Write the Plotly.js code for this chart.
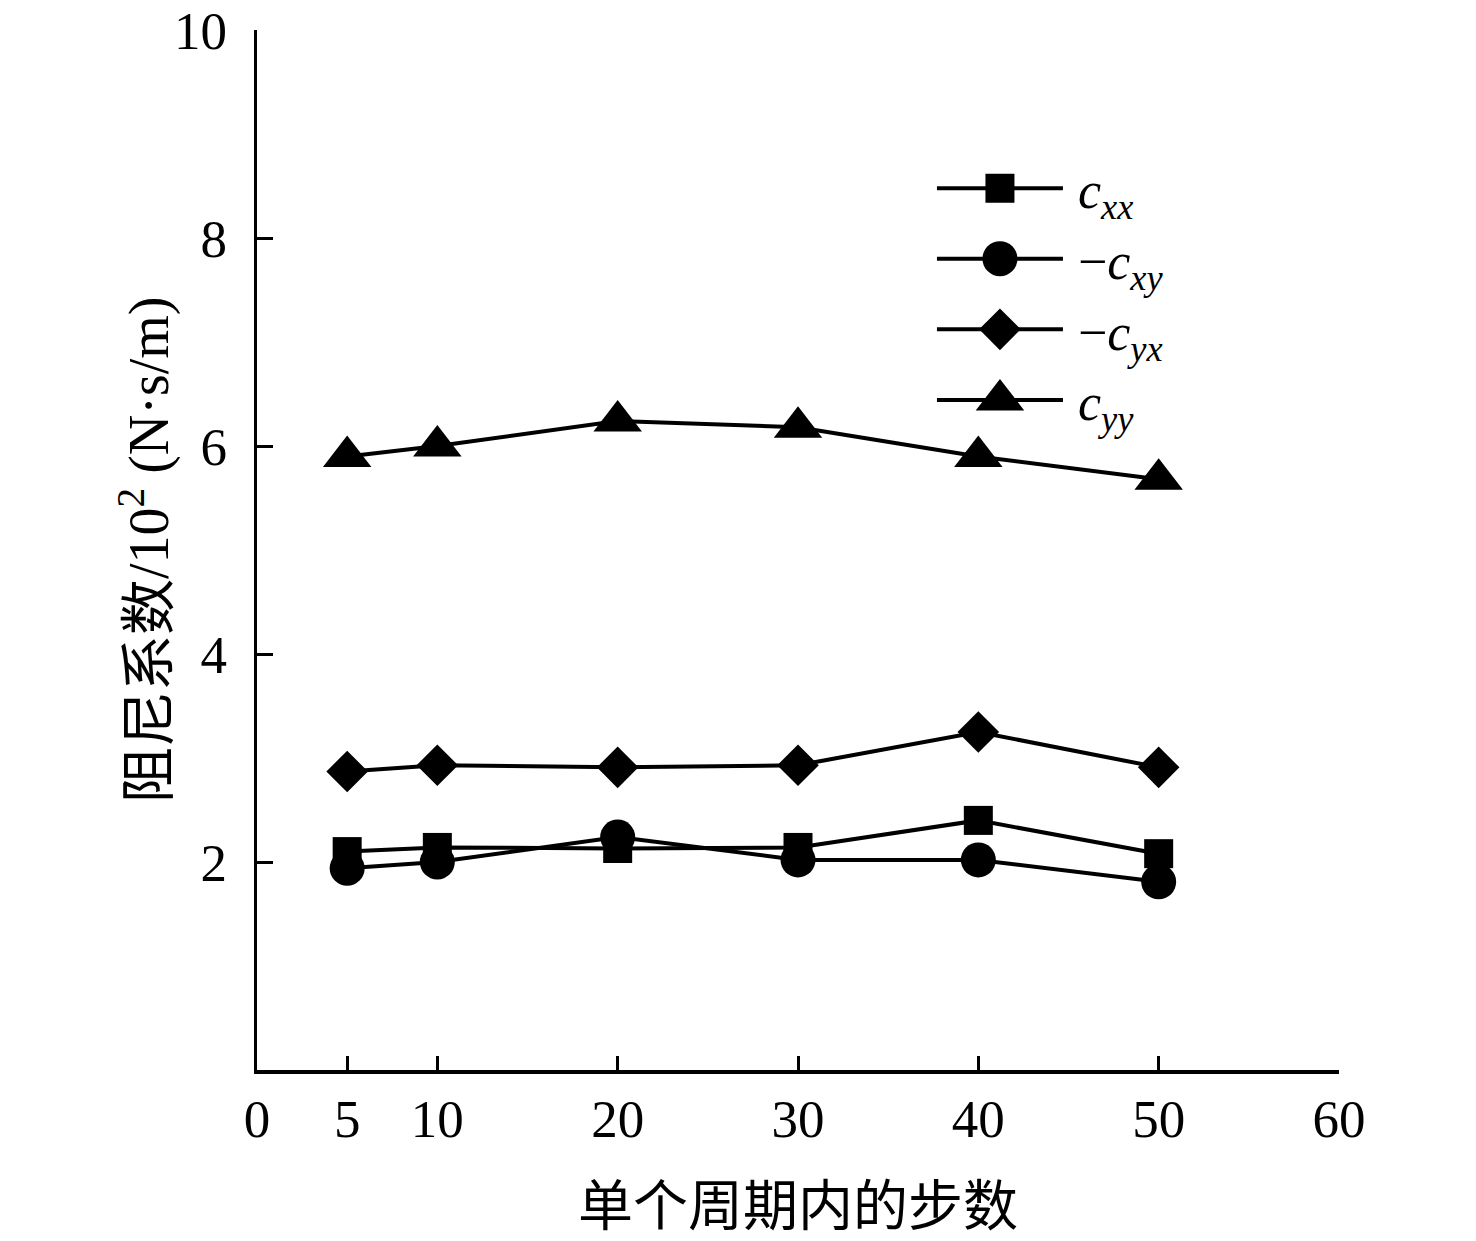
<!DOCTYPE html>
<html>
<head>
<meta charset="utf-8">
<script src="https://cdn.plot.ly/plotly-3.0.1.min.js"></script>
<style>html,body{margin:0;padding:0;background:#fff;}</style>
</head>
<body>
<div id="chart" style="width:1476px;height:1241px;"></div>
<script>
// ---- data ----
const steps = [5, 10, 20, 30, 40, 50];
const cxx   = [2.10, 2.14, 2.13, 2.14, 2.40, 2.08];
const ncxy  = [1.94, 2.00, 2.24, 2.02, 2.02, 1.81];
const ncyx  = [2.87, 2.93, 2.91, 2.93, 3.25, 2.91];
const cyy   = [5.90, 6.00, 6.24, 6.18, 5.90, 5.68];
const xTicks = [0, 5, 10, 20, 30, 40, 50, 60];
const yTicks = [2, 4, 6, 8, 10];
const seriesNames = [
  '<i>c</i><sub><i>xx</i></sub>',
  '\u2212<i>c</i><sub><i>xy</i></sub>',
  '\u2212<i>c</i><sub><i>yx</i></sub>',
  '<i>c</i><sub><i>yy</i></sub>'
];
const xTitle = '单个周期内的步数';
const yTitle = '阻尼系数/10<sup>2</sup> (N·s/m)';

const FONT = '"Liberation Serif", "Times New Roman", "Noto Sans CJK SC", serif';
const symbols = ['square', 'circle', 'diamond', 'triangle-up'];
const sizes = [29, 35, 32, 42];
const values = [cxx, ncxy, ncyx, cyy];

const traces = values.map((v, i) => ({
  x: steps, y: v, name: seriesNames[i], type: 'scatter', mode: 'lines+markers',
  line: {color: '#000', width: 4},
  marker: {symbol: symbols[i], size: sizes[i], color: '#000', line: {width: 0}}
}));

const axisCommon = {
  showline: true, linecolor: '#000', linewidth: 3.5,
  showgrid: false, zeroline: false,
  ticks: 'inside', tickcolor: '#000', tickwidth: 3,
  tickfont: {family: FONT, size: 53, color: '#000'},
  tickmode: 'array'
};

const layout = {
  width: 1476, height: 1241,
  margin: {l: 257, r: 137, t: 30, b: 171},
  paper_bgcolor: '#fff', plot_bgcolor: '#fff',
  font: {family: FONT, color: '#000'},
  showlegend: true,
  legend: {
    x: 0.6238, xanchor: 'left', y: 0.8867, yanchor: 'top',
    bgcolor: 'rgba(0,0,0,0)', borderwidth: 0,
    font: {family: FONT, size: 52, color: '#000'},
    itemwidth: 136, tracegroupgap: 0
  },
  xaxis: Object.assign({}, axisCommon, {
    range: [0, 60], tickvals: xTicks, ticklen: 14, ticklabelstandoff: 0,
    title: {text: xTitle, font: {family: '"Noto Sans CJK SC", sans-serif', size: 55, color: '#000'}, standoff: 40}
  }),
  yaxis: Object.assign({}, axisCommon, {
    range: [0, 10], tickvals: yTicks, ticklen: 16, ticklabelstandoff: 16
  }),
  annotations: [{
    text: yTitle, xref: 'paper', yref: 'paper', x: -0.1035, y: 0.5,
    xanchor: 'center', yanchor: 'middle', textangle: -90, showarrow: false,
    font: {family: FONT, size: 56, color: '#000'}
  }]
};

Plotly.newPlot('chart', traces, layout, {displayModeBar: false, staticPlot: true}).then(gd => {
  // lengthen legend sample lines and enlarge legend markers to match the figure
  const items = gd.querySelectorAll('.legend .traces');
  items.forEach((it, i) => {
    const ln = it.querySelector('.legendlines path');
    if (ln) ln.setAttribute('d', 'M5,0h126');
    const pts = it.querySelectorAll('.legendsymbols path');
    pts.forEach(p => {
      const k = sizes[i] / 16;
      p.setAttribute('transform', 'translate(68,0) scale(' + k + ')');
    });
  });
});
</script>
</body>
</html>
